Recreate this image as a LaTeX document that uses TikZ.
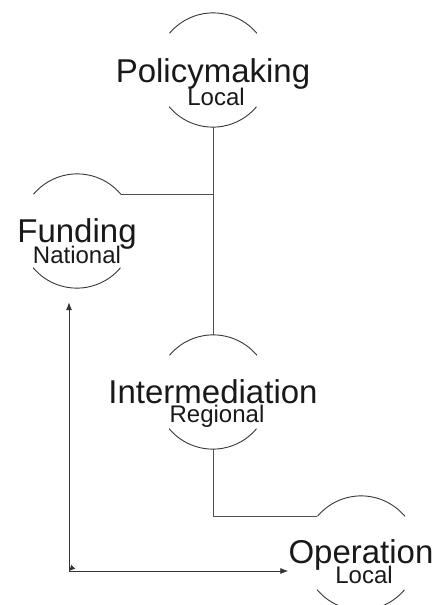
\documentclass[tikz,border=0pt]{standalone}
\usepackage{fontspec}
\setmainfont{Liberation Sans}
\usepackage{tikz}
\usetikzlibrary{arrows.meta}
\definecolor{rimgray}{RGB}{55,55,55}
\definecolor{linegray}{RGB}{80,80,80}
\tikzstyle{unit} = [circle, minimum size=114pt, inner sep=0pt]
\tikzstyle{rim} = [line width=0.9pt, color=rimgray]
\tikzstyle{role} = [font=\fontsize{33}{33}\selectfont, inner sep=0pt, anchor=base, text=black!90]
\tikzstyle{tier} = [font=\fontsize{24}{24}\selectfont, inner sep=0pt, anchor=base, text=black!90]
\tikzstyle{link} = [line width=1pt, color=linegray]
\tikzstyle{flow} = [line width=0.8pt, color=black!80, >={Latex[length=8pt,width=6pt]}]

\begin{document}
\begin{tikzpicture}[x=1pt, y=-1pt]
\useasboundingbox (0,0) rectangle (436,605);

% Units (circles)
\node (policy) [unit] at (213,70) {};
\node (funding) [unit] at (77,231) {};
\node (inter) [unit] at (213,392) {};
\node (operation) [unit] at (361,553) {};

% Broken rims, top and bottom arcs
\foreach \n in {policy,funding,inter,operation} {
  \draw[rim] (\n.40) arc[start angle=40, end angle=140, radius=57pt];
  \draw[rim] (\n.220) arc[start angle=220, end angle=320, radius=57pt];
}

% Names and levels
\node (policyname) [role] at ([yshift=-12pt]policy.center) {Policymaking};
\node (policytier) [tier] at ([xshift=3pt,yshift=-35pt]policy.center) {Local};
\node (fundingname) [role] at ([yshift=-11pt]funding.center) {Funding};
\node (fundingtier) [tier] at ([yshift=-32pt]funding.center) {National};
\node (intername) [role] at ([yshift=-11pt]inter.center) {Intermediation};
\node (intertier) [tier] at ([xshift=4pt,yshift=-30pt]inter.center) {Regional};
\node (operationname) [role] at ([yshift=-10pt]operation.center) {Operation};
\node (operationtier) [tier] at ([xshift=3pt,yshift=-30pt]operation.center) {Local};

% Tree lines
\draw[link] (policy.south) -- (inter.north);
\draw[link] (funding.40) -- (funding.40 -| policy.south);
\draw[link] (inter.south) |- (operation.140);

% Funding to operation
\coordinate (fundin) at ([xshift=-8pt,yshift=-14pt]funding.south);
\coordinate (corner) at (69,571);
\draw[flow, <->] (fundin) |- (operationname.west |- corner);
\draw[flow, -{Latex[length=6pt,width=6pt]}] ([shift={(4pt,4pt)}]corner) -- (corner);
\end{tikzpicture}
\end{document}
